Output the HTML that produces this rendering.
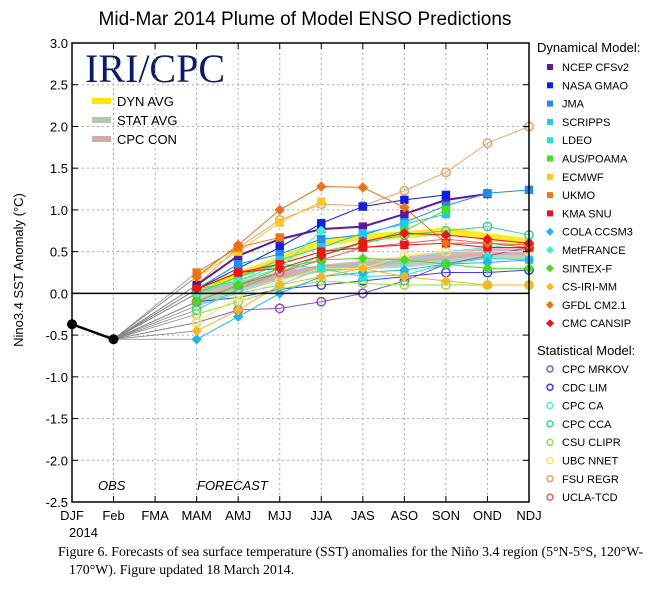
<!DOCTYPE html>
<html><head><meta charset="utf-8"><style>
body{margin:0;background:#fff;width:661px;height:589px;overflow:hidden}
svg text{font-family:"Liberation Sans",sans-serif}
</style></head><body>
<svg id="c" width="661" height="589" xmlns="http://www.w3.org/2000/svg">
<text x="305" y="25" text-anchor="middle" font-size="19">Mid-Mar 2014 Plume of Model ENSO Predictions</text>
<text transform="translate(23,270) rotate(-90)" text-anchor="middle" font-size="13">Nino3.4 SST Anomaly (°C)</text>
<text x="85" y="82" font-size="40" fill="#0a1a6e" style="font-family:'Liberation Serif',serif">IRI/CPC</text>
<g id="grid"></g><g id="plot"></g><g id="axes"></g><g id="legend"></g>
<text x="98" y="490" font-size="13" font-style="italic">OBS</text>
<text x="197" y="490" font-size="13" font-style="italic">FORECAST</text>
<text x="69" y="537" font-size="13" text-anchor="start">2014</text>
<text x="58" y="556" font-size="13.8" style="font-family:'Liberation Serif',serif">Figure 6. Forecasts of sea surface temperature (SST) anomalies for the Niño 3.4 region (5°N-5°S, 120°W-</text>
<text x="69" y="574" font-size="13.8" style="font-family:'Liberation Serif',serif">170°W).  Figure updated 18 March 2014.</text>
</svg>
<script>
const categories=["DJF","Feb","FMA","MAM","AMJ","MJJ","JJA","JAS","ASO","SON","OND","NDJ"];
const yTicks=[3.0,2.5,2.0,1.5,1.0,0.5,0.0,-0.5,-1.0,-1.5,-2.0,-2.5];
const obsValues=[-0.37,-0.55];
const dynNames=["NCEP CFSv2","NASA GMAO","JMA","SCRIPPS","LDEO","AUS/POAMA","ECMWF","UKMO","KMA SNU","COLA CCSM3","MetFRANCE","SINTEX-F","CS-IRI-MM","GFDL CM2.1","CMC CANSIP"];
const dynColors=["#5a1a9e","#0a1ef0","#1e8cf0","#1ec8f5","#1ee6c8","#3ce61e","#ffc81e","#f07814","#f01414","#1eb4f0","#3cf0d2","#46dc1e","#ffb41e","#f06e14","#f01414"];
const dynShapes=["s","s","s","s","s","s","s","s","s","d","d","d","d","d","d"];
const dynValues=[
[0.1,0.45,0.65,0.77,0.8,0.95,1.12,1.19,null],
[0.05,0.3,0.55,0.84,1.04,1.12,1.18,null,null],
[0.05,0.35,0.47,0.65,0.7,0.85,1.05,1.2,1.24],
[0.0,0.2,0.4,0.55,0.72,0.83,0.95,null,null],
[0.05,0.15,0.35,0.3,0.2,0.22,0.35,0.42,0.4],
[0.0,0.2,0.35,0.5,0.6,0.75,1.0,null,null],
[0.2,0.5,0.85,1.1,null,null,null,null,null],
[0.25,0.55,0.67,null,null,null,null,null,null],
[0.05,0.25,0.35,0.5,0.55,0.58,0.6,0.55,0.55],
[-0.55,-0.28,0.0,0.2,0.25,0.28,0.35,0.37,0.4],
[0.0,0.15,0.3,0.75,null,null,null,null,null],
[-0.1,0.1,0.3,0.4,0.42,0.4,0.35,0.3,0.3],
[-0.45,-0.2,0.1,0.2,0.3,0.2,0.15,0.1,0.1],
[0.2,0.58,1.0,1.28,1.27,1.03,0.6,0.6,0.58],
[0.05,0.25,0.3,0.45,0.62,0.72,0.7,0.65,0.6]];
const statNames=["CPC MRKOV","CDC LIM","CPC CA","CPC CCA","CSU CLIPR","UBC NNET","FSU REGR","UCLA-TCD"];
const statColors=["#8c50c8","#3c3cf0","#50e6f0","#3cd28c","#8ce63c","#ffe650","#f0a064","#f05a5a"];
const statValues=[
[-0.35,-0.2,-0.18,-0.1,0.0,0.15,0.35,0.45,0.55],
[-0.1,-0.05,0.05,0.1,0.15,0.2,0.25,0.25,0.28],
[-0.15,0.0,0.1,0.3,0.35,0.38,0.5,0.55,0.6],
[-0.2,0.05,0.25,0.45,0.6,0.7,0.75,0.8,0.7],
[-0.25,-0.1,0.05,0.15,0.12,0.1,0.1,0.1,0.1],
[-0.35,-0.05,0.15,0.3,0.3,0.45,0.5,0.5,0.5],
[0.1,0.55,0.88,1.07,1.05,1.23,1.45,1.8,2.0],
[-0.1,0.1,0.25,0.4,0.55,0.6,0.65,0.6,0.55]];
const avgNames=["DYN AVG","STAT AVG","CPC CON"];
const avgColors=["#ffe600","#b4c8b4","#d2aaaa"];
const avgValues=[
[0.05,0.22,0.4,0.6,0.68,0.7,0.75,0.68,0.62],
[-0.1,0.05,0.2,0.3,0.33,0.35,0.4,0.45,0.45],
[0.0,0.1,0.22,0.3,0.35,0.4,0.45,0.5,0.5]];

const NS="http://www.w3.org/2000/svg";
const L=72,R=529,T=43,B=502,ymin=-2.5,ymax=3.0;
const xs=i=>L+i*(R-L)/(categories.length-1);
const ys=v=>B-(v-ymin)/(ymax-ymin)*(B-T);
function mk(tag,attrs,parent){const e=document.createElementNS(NS,tag);for(const k in attrs)e.setAttribute(k,attrs[k]);parent.appendChild(e);return e;}
const grid=document.getElementById('grid'),plot=document.getElementById('plot'),axes=document.getElementById('axes'),leg=document.getElementById('legend');
yTicks.forEach(v=>{
 if(v!==ymax&&v!==ymin&&v!==0){const g=mk('line',{x1:L,x2:R,y1:ys(v),y2:ys(v),stroke:'#aaa','stroke-dasharray':'2,3'},grid);
 
 }
 const t=mk('line',{x1:L,x2:L+6,y1:ys(v),y2:ys(v),stroke:'#000'},axes);
 
 
 const t2=mk('line',{x1:R-6,x2:R,y1:ys(v),y2:ys(v),stroke:'#000'},axes);
 
 
 const lb=mk('text',{x:L-4,y:ys(v)+5,'text-anchor':'end','font-size':13},axes);lb.textContent=v.toFixed(1);
 
 
});
categories.forEach((c,i)=>{
 if(i>0&&i<categories.length-1){const g=mk('line',{x1:xs(i),x2:xs(i),y1:T,y2:B,stroke:'#aaa','stroke-dasharray':'2,3'},grid);
 
 }
 const t=mk('line',{x1:xs(i),x2:xs(i),y1:B-6,y2:B,stroke:'#000'},axes);
 
 
 const t2=mk('line',{x1:xs(i),x2:xs(i),y1:T,y2:T+6,stroke:'#000'},axes);
 
 
 const lb=mk('text',{x:xs(i),y:520,'text-anchor':'middle','font-size':13},axes);lb.textContent=c;
 
 
});
const fr=mk('rect',{x:L,y:T,width:R-L,height:B-T,fill:'none',stroke:'#000','stroke-width':1.5},axes);


const zl=mk('line',{x1:L,x2:R,y1:ys(0),y2:ys(0),stroke:'#000','stroke-width':1.5},axes);



function ptsOf(vals){const p=[];vals.forEach((v,j)=>{if(v!==null)p.push([xs(j+3),ys(v)]);});return p;}
const allSeries=[...dynValues,...statValues];
allSeries.forEach(vals=>{const c=mk('line',{x1:xs(1),y1:ys(obsValues[1]),x2:xs(3),y2:ys(vals[0]),stroke:'#888','stroke-width':0.8},plot);
 
 });
avgValues.forEach((vals,k)=>{const p=ptsOf(vals);const pl=mk('polyline',{points:p.map(q=>q.join(',')).join(' '),fill:'none',stroke:avgColors[k],'stroke-width':7,opacity:0.85},plot);
 
 });
function marker(shape,x,y,col,parent,sz){
 let e;
 if(shape==='s')e=mk('rect',{x:x-sz,y:y-sz,width:2*sz,height:2*sz,fill:col},parent);
 else if(shape==='d')e=mk('polygon',{points:`${x},${y-sz-1} ${x+sz+1},${y} ${x},${y+sz+1} ${x-sz-1},${y}`,fill:col},parent);
 else e=mk('circle',{cx:x,cy:y,r:sz,fill:'none',stroke:col,'stroke-width':1.5},parent);
 return e;}
statValues.forEach((vals,k)=>{const p=ptsOf(vals);
 const pl=mk('polyline',{points:p.map(q=>q.join(',')).join(' '),fill:'none',stroke:statColors[k],'stroke-width':1},plot);
 
 
 p.forEach(q=>{const m=marker('o',q[0],q[1],statColors[k],plot,4.2);
 
 });});
dynValues.forEach((vals,k)=>{const p=ptsOf(vals);
 const pl=mk('polyline',{points:p.map(q=>q.join(',')).join(' '),fill:'none',stroke:dynColors[k],'stroke-width':k===0?2:1},plot);
 
 
 p.forEach(q=>{const m=marker(dynShapes[k],q[0],q[1],dynColors[k],plot,4.2);
 
 });});
const op=mk('polyline',{points:obsValues.map((v,i)=>xs(i)+','+ys(v)).join(' '),fill:'none',stroke:'#000','stroke-width':2.5},plot);


obsValues.forEach((v,i)=>{const c=mk('circle',{cx:xs(i),cy:ys(v),r:5,fill:'#000'},plot);
 
 });
avgNames.forEach((n,k)=>{const y=101+k*19;
 const s=mk('rect',{x:92,y:y-3,width:19,height:6,fill:avgColors[k]},leg);
 
 
 const t=mk('text',{x:117,y:y+5,'font-size':13},leg);t.textContent=n;
 
 });
const h1=mk('text',{x:537,y:52,'font-size':13},leg);h1.textContent="Dynamical Model:";


dynNames.forEach((n,k)=>{const y=67+k*18.3;
 const m=marker(dynShapes[k],550,y,dynColors[k],leg,3);
 
 
 const t=mk('text',{x:562,y:y+4,'font-size':11},leg);t.textContent=n;
 
 });
const h2=mk('text',{x:537,y:355,'font-size':13},leg);h2.textContent="Statistical Model:";


statNames.forEach((n,k)=>{const y=369+k*18.3;
 const m=marker('o',550,y,statColors[k],leg,3);
 
 
 const t=mk('text',{x:562,y:y+4,'font-size':11},leg);t.textContent=n;
 
 });
</script>
</body></html>
